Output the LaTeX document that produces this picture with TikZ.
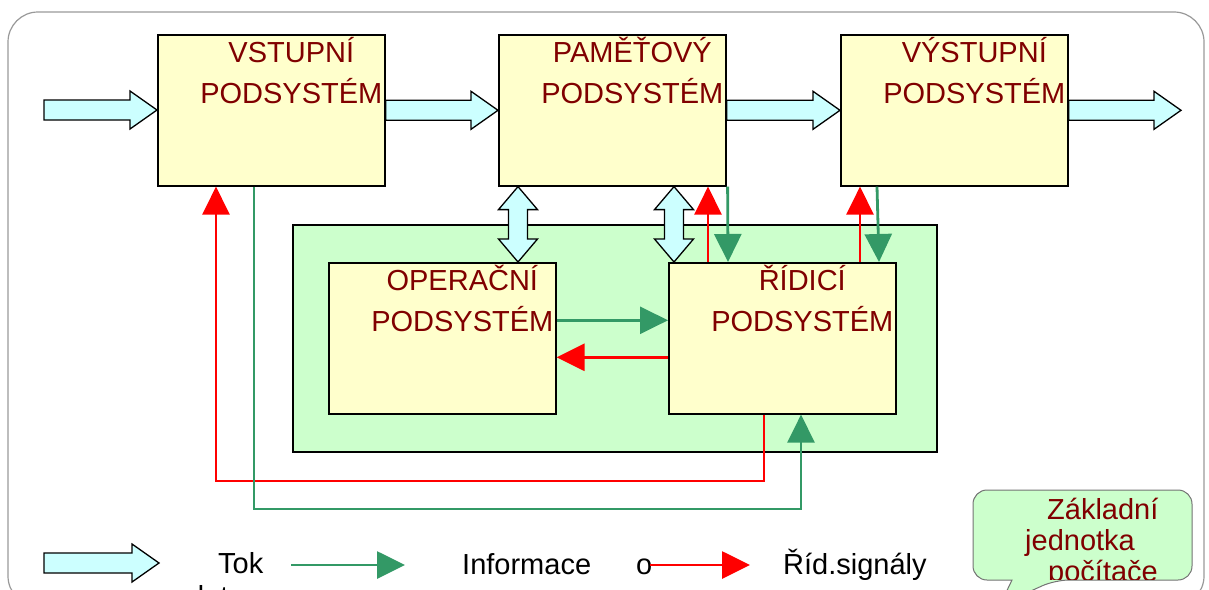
\documentclass[tikz,border=0pt]{standalone}
\usepackage{fontspec}
\setmainfont{Liberation Sans}
\usetikzlibrary{arrows.meta,positioning,calc}
\definecolor{pyellow}{HTML}{FFFFCC}
\definecolor{pgreen}{HTML}{CCFFCC}
\definecolor{pcyan}{HTML}{CCFFFF}
\definecolor{dgreen}{HTML}{339966}
\definecolor{dred}{HTML}{800000}
\tikzset{
  box/.style={draw=black,line width=1.6pt,fill=pyellow,anchor=north west,inner sep=0pt},
  boxtxt/.style={anchor=north,align=center,inner sep=0pt,text=dred,font=\fontsize{29}{41}\selectfont},
  flow/.style={draw=black,line width=1.3pt,fill=pcyan,line join=miter},
  info/.style={-{Triangle[length=28pt,width=27pt]},line width=2.8pt,dgreen},
  ctrl/.style={-{Triangle[length=28pt,width=27pt]},line width=2.8pt,red},
  lgd/.style={font=\fontsize{29}{33}\selectfont,inner sep=0pt,anchor=base west},
  bubble/.style={draw=black!55,line width=1pt,fill=pgreen},
}

\begin{document}
\begin{tikzpicture}[x=1pt,y=-1pt]
\clip (0,0) rectangle (1209,589);
\draw[black!40,line width=1.2pt,rounded corners=30pt] (8,12) rectangle (1204,606);
% inner block of the unit
\node[box,fill=pgreen,minimum width=644pt,minimum height=227pt] (core) at (292,224) {};
\foreach \nm/\x/\y/\txt in {vst/157/34/VSTUPNÍ, pam/498/34/PAMĚŤOVÝ, vys/840/34/VÝSTUPNÍ,
  ope/328/262/OPERAČNÍ, rid/668/262/ŘÍDICÍ}{
  \node[box,minimum width=227pt,minimum height=151pt] (\nm) at (\x,\y) {};
  \node[boxtxt] (\nm-t) at ($(\nm.north)+(20,3)$) {\txt\\PODSYSTÉM};}
% data flow (block arrows)
\coordinate (src) at (44,110);
\coordinate (snk) at (1181,110);
\coordinate (lgA) at (44,563);
\coordinate (lgB) at (159,563);
\foreach \a/\b in {src/vst.west, vst.east/pam.west, pam.east/vys.west, vys.east/snk, lgA/lgB}
  \draw[flow] let \p1=(\a), \p2=(\b) in
    (\x1,\y1+10pt) -- (\x2-27pt,\y1+10pt) -- (\x2-27pt,\y1+19pt) -- (\x2,\y1)
    -- (\x2-27pt,\y1-19pt) -- (\x2-27pt,\y1-10pt) -- (\x1,\y1-10pt) -- cycle;
\coordinate (d1) at ($(pam.south west)+(20,0)$);
\coordinate (d2) at ($(pam.south west)+(176,0)$);
\foreach \a/\b in {d1/ope.north, d2/rid.north}
  \draw[flow] let \p1=(\a), \p2=(\a |- \b) in
    (\x1,\y1) -- (\x1+19.5pt,\y1-23pt) -- (\x1+9.5pt,\y1-23pt) -- (\x1+9.5pt,\y2+23pt)
    -- (\x1+19.5pt,\y2+23pt) -- (\x1,\y2) -- (\x1-19.5pt,\y2+23pt) -- (\x1-9.5pt,\y2+23pt)
    -- (\x1-9.5pt,\y1-23pt) -- (\x1-19.5pt,\y1-23pt) -- cycle;
% control signals and information
\coordinate (r1) at ($(rid.north west)+(40,0)$);
\coordinate (r2) at ($(rid.north west)+(192,0)$);
\coordinate (r3) at ($(rid.west)+(0,19)$);
\coordinate (r4) at ($(rid.south west)+(96,0)$);
\coordinate (r5) at ($(vst.south west)+(59,0)$);
\coordinate (g3) at ($(ope.east)+(0,-18)$);
\coordinate (g4) at ($(vst.south west)+(97,0)$);
\coordinate (g5) at ($(rid.south west)+(133,0)$);
\draw[ctrl] (r1) -- (r1 |- pam.south);
\draw[info] ($(pam.south east)+(1,0)$) -- ($(rid.north west)+(60,0)$);
\draw[ctrl] (r2) -- (r2 |- vys.south);
\draw[info] ($(vys.south west)+(37,0)$) -- ($(rid.north west)+(211,0)$);
\draw[info] (g3) -- (g3 -| rid.west);
\draw[ctrl] (r3) -- (r3 -| ope.east);
\draw[ctrl] (r4) -- (r4 |- 0,481) -| (r5);
\draw[info] (g4) -- (g4 |- 0,509) -| (g5);
% legend
\coordinate (li1) at (291,565);
\coordinate (li2) at (405,565);
\coordinate (ri1) at (650,565);
\coordinate (ri2) at (750,565);
\node[lgd] (tok) at (218,573) {Tok};
\node[lgd] (dat) at (188,606) {dat};
\draw[info] (li1) -- (li2);
\node[lgd] (inf) at (462,574) {Informace};
\node[lgd] (oo) at (636,574) {o};
\draw[ctrl] (ri1) -- (ri2);
\node[lgd] (sig) at (783,574) {Říd.signály};
% callout
\draw[bubble] (973,535) [rounded corners=14pt] -- (973,490) -- (1192,490) -- (1192,580) -- (1055,580)
  [sharp corners] -- (1000,605) -- (1012,580) [rounded corners=14pt] -- (973,580) -- cycle;
\begin{scope}
\clip (973,490) rectangle (1192,579);
\node[anchor=north west,align=left,inner sep=0pt,text=dred,font=\fontsize{29}{31}\selectfont]
  (unit) at (1025,498) {\hspace*{22pt}Základní\\jednotka\\\hspace*{23pt}počítače};
\end{scope}
\end{tikzpicture}
\end{document}
